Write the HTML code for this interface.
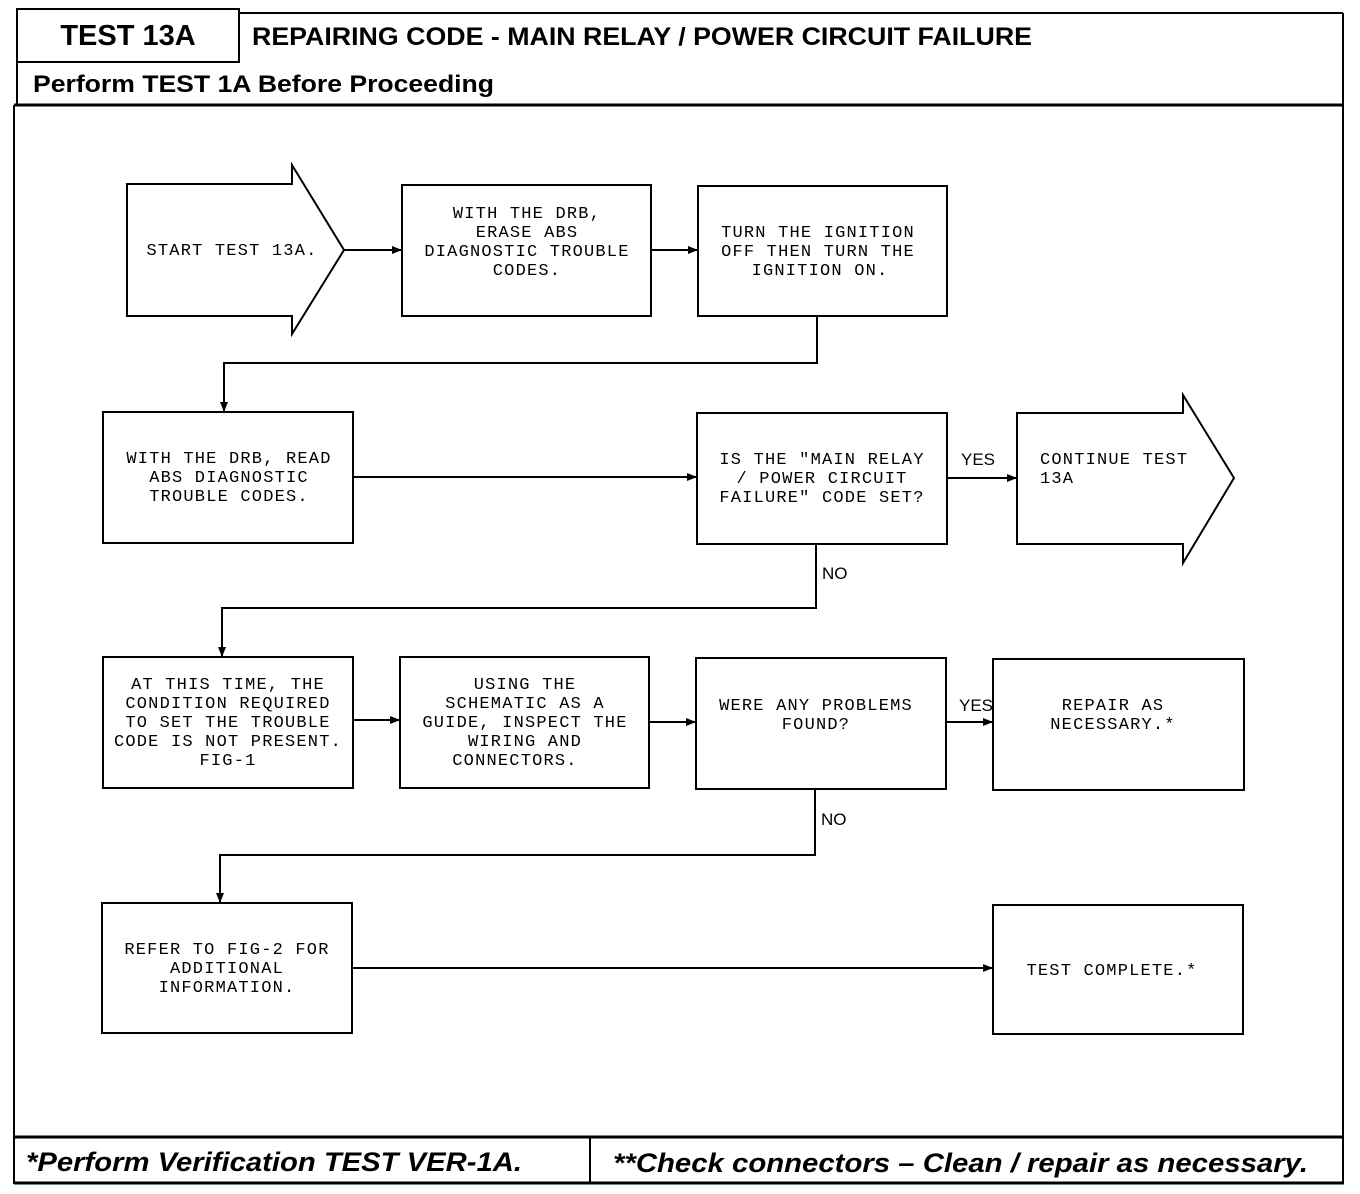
<!DOCTYPE html>
<html><head><meta charset="utf-8"><style>
html,body{margin:0;padding:0;background:#fff}
svg{display:block}
.t{font-family:"Liberation Mono",monospace;font-size:17px;letter-spacing:1.2px;fill:#000}
.h{font-family:"Liberation Sans",sans-serif;font-weight:bold;fill:#000}
.f{font-family:"Liberation Sans",sans-serif;font-weight:bold;font-style:italic;fill:#000;font-size:27px}
.l{font-family:"Liberation Sans",sans-serif;font-size:17px;fill:#000}
</style></head><body>
<svg width="1360" height="1194" viewBox="0 0 1360 1194" xmlns="http://www.w3.org/2000/svg">
<defs><marker id="a" markerWidth="10" markerHeight="8" refX="9" refY="4" orient="auto" markerUnits="userSpaceOnUse"><path d="M0,0 L10,4 L0,8 Z" fill="#000"/></marker></defs>
<g stroke="#000" fill="none">
<rect x="17" y="9" width="222" height="53" stroke-width="2"/>
<line x1="239" y1="13" x2="1343" y2="13" stroke-width="2"/>
<line x1="1343" y1="13" x2="1343" y2="1184" stroke-width="2"/>
<line x1="17" y1="62" x2="17" y2="105" stroke-width="2"/>
<line x1="14" y1="105" x2="14" y2="1184" stroke-width="2"/>
<line x1="14" y1="105" x2="1344" y2="105" stroke-width="3"/>
<line x1="14" y1="1137" x2="1344" y2="1137" stroke-width="3"/>
<line x1="590" y1="1137" x2="590" y2="1183" stroke-width="2"/>
<line x1="14" y1="1183" x2="1344" y2="1183" stroke-width="3"/>
<g stroke-width="2">
<path d="M127,184 L292,184 L292,165 L344,250 L292,334 L292,316 L127,316 Z"/>
<rect x="402" y="185" width="249" height="131"/>
<rect x="698" y="186" width="249" height="130"/>
<rect x="103" y="412" width="250" height="131"/>
<rect x="697" y="413" width="250" height="131"/>
<path d="M1017,413 L1183,413 L1183,395 L1234,478 L1183,563 L1183,544 L1017,544 Z"/>
<rect x="103" y="657" width="250" height="131"/>
<rect x="400" y="657" width="249" height="131"/>
<rect x="696" y="658" width="250" height="131"/>
<rect x="993" y="659" width="251" height="131"/>
<rect x="102" y="903" width="250" height="130"/>
<rect x="993" y="905" width="250" height="129"/>
</g>
<g stroke-width="2" marker-end="url(#a)">
<line x1="344" y1="250" x2="401" y2="250"/>
<line x1="651" y1="250" x2="697" y2="250"/>
<polyline points="817,316 817,363 224,363 224,411"/>
<line x1="353" y1="477" x2="696" y2="477"/>
<line x1="947" y1="478" x2="1016" y2="478"/>
<polyline points="816,544 816,608 222,608 222,656"/>
<line x1="353" y1="720" x2="399" y2="720"/>
<line x1="649" y1="722" x2="695" y2="722"/>
<line x1="946" y1="722" x2="992" y2="722"/>
<polyline points="815,789 815,855 220,855 220,902"/>
<line x1="352" y1="968" x2="992" y2="968"/>
</g>
</g>
<text class="h" x="128" y="45" font-size="29" text-anchor="middle">TEST 13A</text>
<text class="h" x="252" y="45" font-size="25" textLength="780" lengthAdjust="spacingAndGlyphs">REPAIRING CODE - MAIN RELAY / POWER CIRCUIT FAILURE</text>
<text class="h" x="33" y="92" font-size="24" textLength="461" lengthAdjust="spacingAndGlyphs">Perform TEST 1A Before Proceeding</text>
<text class="f" x="26" y="1171" textLength="496" lengthAdjust="spacingAndGlyphs">*Perform Verification TEST VER-1A.</text>
<text class="f" x="613" y="1172" textLength="695" lengthAdjust="spacingAndGlyphs">**Check connectors – Clean / repair as necessary.</text>
<g class="t" text-anchor="middle">
<text x="232" y="255">START TEST 13A.</text>
<text x="527" y="218">WITH THE DRB,</text>
<text x="527" y="237">ERASE ABS</text>
<text x="527" y="256">DIAGNOSTIC TROUBLE</text>
<text x="527" y="275">CODES.</text>
<text x="818" y="237">TURN THE IGNITION</text>
<text x="818" y="256">OFF THEN TURN THE</text>
<text x="820" y="275">IGNITION ON.</text>
<text x="229" y="463">WITH THE DRB, READ</text>
<text x="229" y="482">ABS DIAGNOSTIC</text>
<text x="229" y="501">TROUBLE CODES.</text>
<text x="822" y="464">IS THE "MAIN RELAY</text>
<text x="822" y="483">/ POWER CIRCUIT</text>
<text x="822" y="502">FAILURE" CODE SET?</text>
<text x="228" y="689">AT THIS TIME, THE</text>
<text x="228" y="708">CONDITION REQUIRED</text>
<text x="228" y="727">TO SET THE TROUBLE</text>
<text x="228" y="746">CODE IS NOT PRESENT.</text>
<text x="228" y="765">FIG-1</text>
<text x="525" y="689">USING THE</text>
<text x="525" y="708">SCHEMATIC AS A</text>
<text x="525" y="727">GUIDE, INSPECT THE</text>
<text x="525" y="746">WIRING AND</text>
<text x="515" y="765">CONNECTORS.</text>
<text x="816" y="710">WERE ANY PROBLEMS</text>
<text x="816" y="729">FOUND?</text>
<text x="1113" y="710">REPAIR AS</text>
<text x="1113" y="729">NECESSARY.*</text>
<text x="227" y="954">REFER TO FIG-2 FOR</text>
<text x="227" y="973">ADDITIONAL</text>
<text x="227" y="992">INFORMATION.</text>
<text x="1112" y="975">TEST COMPLETE.*</text>
</g>
<text class="t" x="1040" y="464">CONTINUE TEST</text>
<text class="t" x="1040" y="483">13A</text>
<text class="l" x="961" y="465">YES</text>
<text class="l" x="822" y="579">NO</text>
<text class="l" x="959" y="711">YES</text>
<text class="l" x="821" y="825">NO</text>
</svg>
</body></html>
